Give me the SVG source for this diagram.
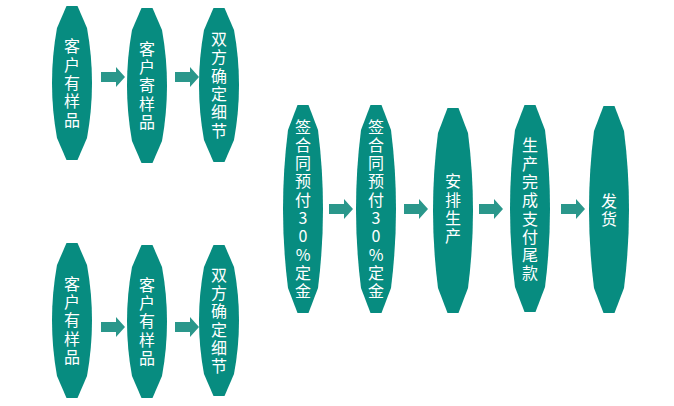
<svg xmlns="http://www.w3.org/2000/svg" xmlns:xlink="http://www.w3.org/1999/xlink" width="674" height="406" viewBox="0 0 674 406">
<style>
.node{fill:#078c80;}
.arrow{fill:#2a978b;}
.lbl{fill:#ffffff;font-family:"Noto Sans CJK SC","Noto Sans",sans-serif;font-size:16px;text-anchor:middle;writing-mode:vertical-rl;text-orientation:upright;letter-spacing:2.3px;}
</style>
<defs>
<path id="arr" d="M0,-5 H15 V-10 L24,0 L15,10 V5 H0 Z"/>
</defs>
<rect width="674" height="406" fill="#ffffff"/>
<g id="connectors">
<use xlink:href="#arr" class="arrow" x="101" y="77"/>
<use xlink:href="#arr" class="arrow" x="175" y="77"/>
<use xlink:href="#arr" class="arrow" x="101" y="327"/>
<use xlink:href="#arr" class="arrow" x="175" y="327"/>
<use xlink:href="#arr" class="arrow" x="329" y="209"/>
<use xlink:href="#arr" class="arrow" x="404" y="209"/>
<use xlink:href="#arr" class="arrow" x="479" y="209"/>
<use xlink:href="#arr" class="arrow" x="561" y="209"/>
</g>
<g id="n1">
<path class="node" d="M66.5,6 L77.5,6 L87,28 Q97,83 87,138 L77.5,160 L66.5,160 L57,138 Q47,83 57,28 Z"/>
<text class="lbl" x="72" y="84">客户有样品</text>
</g>
<g id="n2">
<path class="node" d="M141.5,8 L152.5,8 L162,30 Q172,85.5 162,141 L152.5,163 L141.5,163 L132,141 Q122,85.5 132,30 Z"/>
<text class="lbl" x="147" y="86.5">客户寄样品</text>
</g>
<g id="n3">
<path class="node" d="M213.5,8 L224.5,8 L234,30 Q244,85 234,140 L224.5,162 L213.5,162 L204,140 Q194,85 204,30 Z"/>
<text class="lbl" x="219" y="86">双方确定细节</text>
</g>
<g id="n4">
<path class="node" d="M66.5,243 L77.5,243 L87,265 Q97,320.5 87,376 L77.5,398 L66.5,398 L57,376 Q47,320.5 57,265 Z"/>
<text class="lbl" x="72" y="321.5">客户有样品</text>
</g>
<g id="n5">
<path class="node" d="M141.5,245 L152.5,245 L162,267 Q172,321.5 162,376 L152.5,398 L141.5,398 L132,376 Q122,321.5 132,267 Z"/>
<text class="lbl" x="147" y="322.5">客户有样品</text>
</g>
<g id="n6">
<path class="node" d="M213.5,245 L224.5,245 L234,267 Q244,320.5 234,374 L224.5,396 L213.5,396 L204,374 Q194,320.5 204,267 Z"/>
<text class="lbl" x="219" y="321.5">双方确定细节</text>
</g>
<g id="n7">
<path class="node" d="M297.5,105 L308.5,105 L318,130 Q328,209 318,288 L308.5,313 L297.5,313 L288,288 Q278,209 288,130 Z"/>
<text class="lbl" x="303" y="210">签合同预付30%定金</text>
</g>
<g id="n8">
<path class="node" d="M370.5,105 L381.5,105 L391,130 Q401,209 391,288 L381.5,313 L370.5,313 L361,288 Q351,209 361,130 Z"/>
<text class="lbl" x="376" y="210">签合同预付30%定金</text>
</g>
<g id="n9">
<path class="node" d="M447.5,108 L458.5,108 L468,133 Q478,210.5 468,288 L458.5,313 L447.5,313 L438,288 Q428,210.5 438,133 Z"/>
<text class="lbl" x="453" y="210">安排生产</text>
</g>
<g id="n10">
<path class="node" d="M524.5,105 L535.5,105 L545,130 Q555,208.5 545,287 L535.5,312 L524.5,312 L515,287 Q505,208.5 515,130 Z"/>
<text class="lbl" x="530" y="210.5">生产完成支付尾款</text>
</g>
<g id="n11">
<path class="node" d="M603.5,106 L614.5,106 L624,131 Q634,209.5 624,288 L614.5,313 L603.5,313 L594,288 Q584,209.5 594,131 Z"/>
<text class="lbl" x="609" y="211">发货</text>
</g>
</svg>
